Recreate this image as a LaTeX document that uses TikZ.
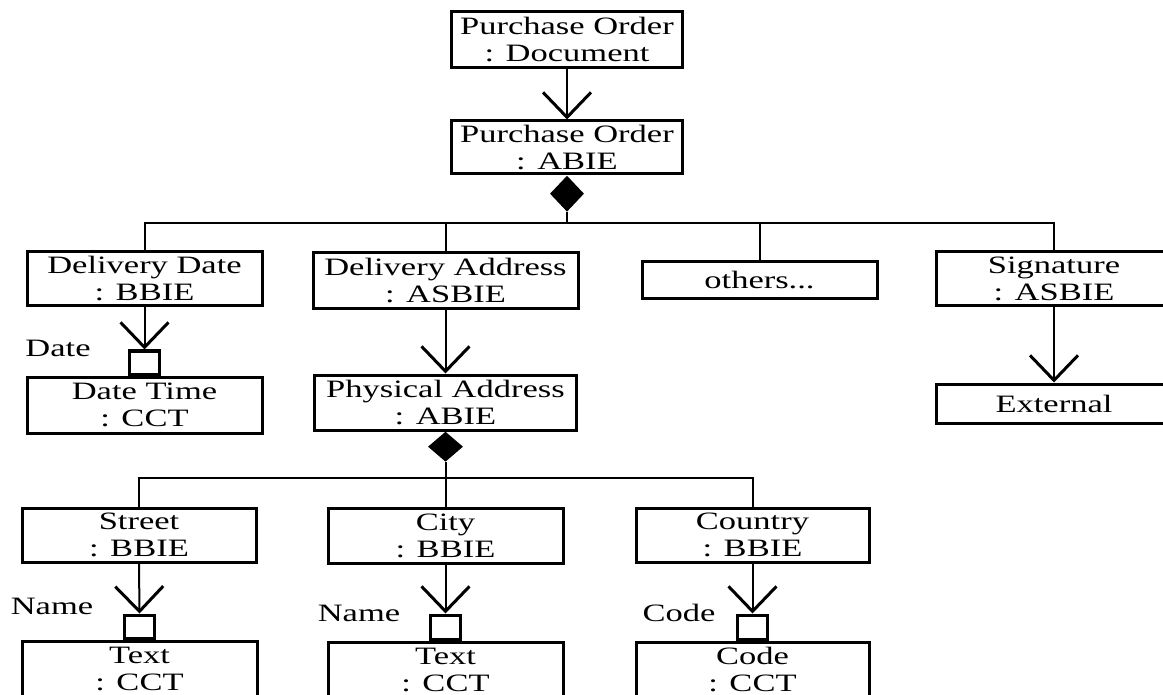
\documentclass[tikz,border=0pt]{standalone}
\usepackage{fontspec}
\setmainfont{Liberation Serif}[FakeStretch=1.38]
\usetikzlibrary{arrows.meta,shapes.geometric}
\begin{document}
\begin{tikzpicture}[x=1pt,y=-1pt,
  box/.style={draw,line width=3pt,inner sep=0pt,align=center,font=\fontsize{25}{27}\selectfont},
  conn/.style={line width=2pt},
  arr/.style={conn,-{Straight Barb[length=25pt,width=48pt,line width=3pt]}},
  qual/.style={draw,line width=3pt,inner sep=0pt,minimum width=30pt,minimum height=23pt},
  dia/.style={diamond,fill=black,inner sep=0pt,minimum width=34pt,minimum height=36pt},
  lbl/.style={font=\fontsize{25}{27}\selectfont,inner sep=0pt}]

\useasboundingbox (0,0) rectangle (1163,695);

% top
\node[box,minimum width=231pt,minimum height=56pt] (podoc) at (567,40) {Purchase Order\\: Document};
\node[box,minimum width=231pt,minimum height=53pt] (poabie) at (567,147.5) {Purchase Order\\: ABIE};
\node[dia,anchor=north] (dia1) at (poabie.south) {};
\draw[arr] (podoc) -- (poabie);

% level 2
\node[box,minimum width=235pt,minimum height=54pt] (ddate) at (144.5,279) {Delivery Date\\: BBIE};
\node[box,minimum width=265pt,minimum height=56pt] (daddr) at (445.5,281) {Delivery Address\\: ASBIE};
\node[box,minimum width=235pt,minimum height=37pt] (others) at (759.5,280.5) {others...};
\node[box,minimum width=235pt,minimum height=54pt] (sig) at (1054,279) {Signature\\: ASBIE};

\coordinate (bus1) at (567,223);
\draw[conn] (dia1.south) -- (bus1);
\draw[conn] (ddate.north) -- (ddate.north |- bus1) -- (sig.north |- bus1) -- (sig.north);
\draw[conn] (daddr.north) -- (daddr.north |- bus1);
\draw[conn] (others.north) -- (others.north |- bus1);

% delivery date branch
\node[box,minimum width=235pt,minimum height=56pt] (dtime) at (144.5,405) {Date Time\\: CCT};
\node[qual,anchor=south] (qdate) at (dtime.north) {};
\draw[arr] (ddate.south) -- (qdate.north);
\node[lbl] (ldate) at (58,348) {Date};

% signature branch
\node[box,minimum width=235pt,minimum height=39pt] (ext) at (1054,403.5) {External};
\draw[arr] (sig.south) -- (ext.north);

% physical address
\node[box,minimum width=262pt,minimum height=55pt] (phys) at (445.5,402.5) {Physical Address\\: ABIE};
\draw[arr] (daddr.south) -- (phys.north);
\node[dia,anchor=north,minimum width=35pt,minimum height=30pt] (dia2) at (phys.south) {};

% level 3
\node[box,minimum width=234pt,minimum height=54pt] (street) at (139,535) {Street\\: BBIE};
\node[box,minimum width=235pt,minimum height=55pt] (city) at (445.5,535.5) {City\\: BBIE};
\node[box,minimum width=233pt,minimum height=54pt] (country) at (752.5,535) {Country\\: BBIE};

\coordinate (bus2) at (445.5,478);
\draw[conn] (dia2.south) -- (bus2);
\draw[conn] (street.north) -- (street.north |- bus2) -- (country.north |- bus2) -- (country.north);
\draw[conn] (city.north) -- (city.north |- bus2);

% level 4
\node[box,minimum width=235pt,minimum height=56pt] (text1) at (139.5,669) {Text\\: CCT};
\node[box,minimum width=235pt,minimum height=56pt] (text2) at (445.5,670) {Text\\: CCT};
\node[box,minimum width=233pt,minimum height=56pt] (code) at (752.5,670) {Code\\: CCT};

\node[qual,anchor=south] (q1) at (text1.north) {};
\node[qual,anchor=south,minimum height=24pt] (q2) at (text2.north) {};
\node[qual,anchor=south,minimum height=24pt] (q3) at (code.north) {};
\draw[arr] (street.south) -- (q1.north);
\draw[arr] (city.south) -- (q2.north);
\draw[arr] (country.south) -- (q3.north);

\node[lbl] (lname1) at (52,606) {Name};
\node[lbl] (lname2) at (359,613) {Name};
\node[lbl] (lcode) at (679,613) {Code};
\end{tikzpicture}
\end{document}
